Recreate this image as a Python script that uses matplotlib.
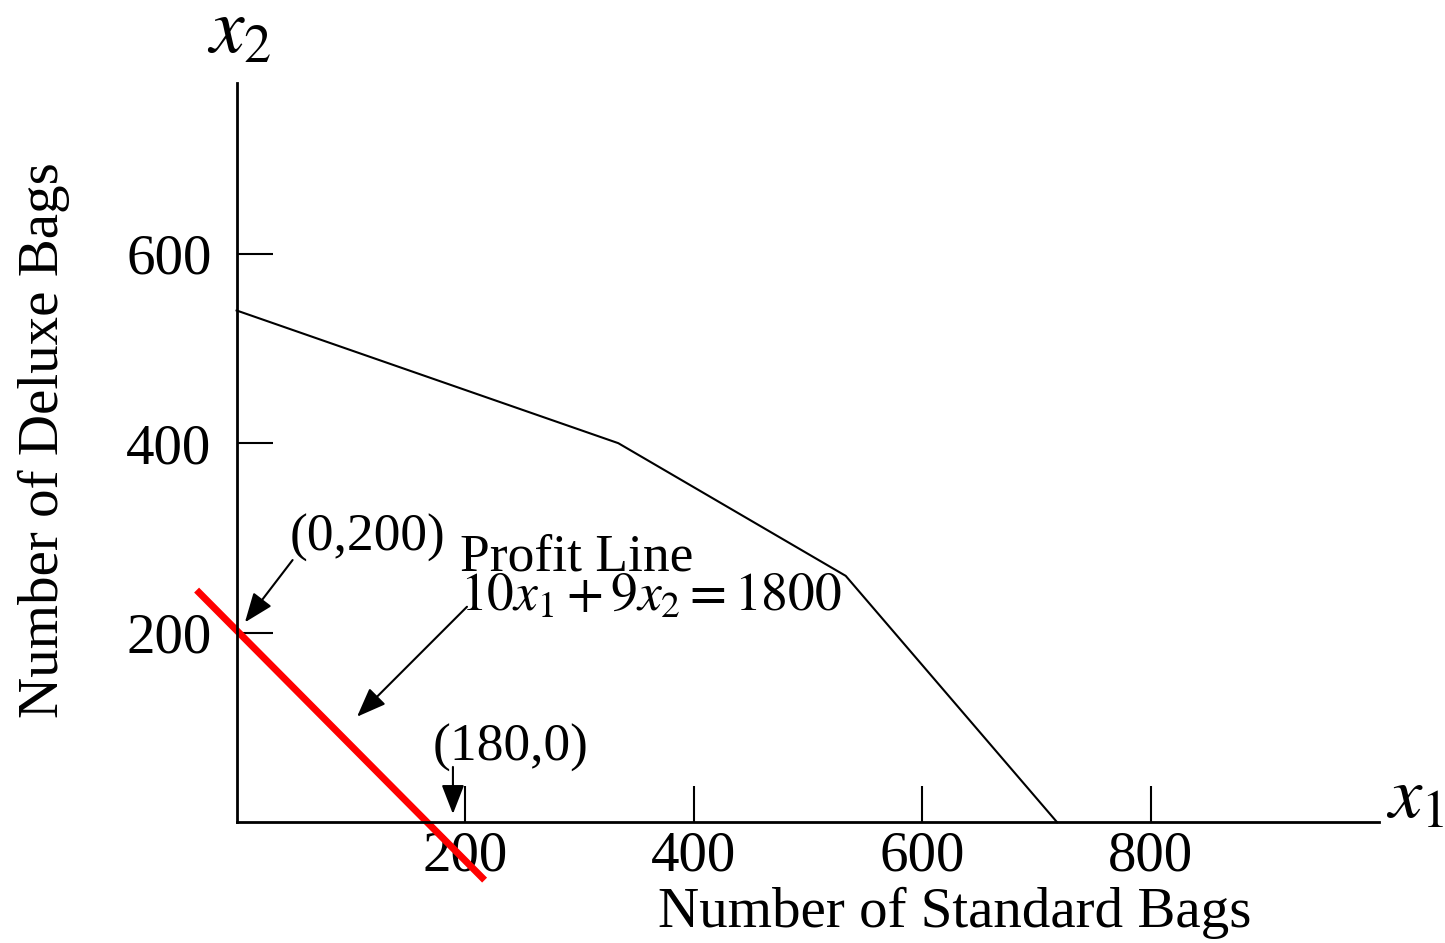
import matplotlib
matplotlib.use("Agg")
import matplotlib.pyplot as plt

plt.rcParams['font.family'] = ['Liberation Serif', 'DejaVu Serif']
plt.rcParams['mathtext.fontset'] = 'stix'

# Feasible region boundary vertices
boundary_x = [0, 334, 533, 718]
boundary_y = [540, 400, 260, 0]

# Profit line 10x1 + 9x2 = 1800 (drawn segment)
profit_x = [-35, 217]
profit_y = [245, -61]

x_ticks = [200, 400, 600, 800]
y_ticks = [200, 400, 600]

fig = plt.figure(figsize=(14.45, 9.43), dpi=100)
ax = fig.add_axes([236.6 / 1445, (943 - 822.3) / 943, 1142.8 / 1445, 739.3 / 943])
ax.set_xlim(0, 1000)
ax.set_ylim(0, 780)

for s in ['top', 'right']:
    ax.spines[s].set_visible(False)
for s in ['left', 'bottom']:
    ax.spines[s].set_linewidth(2)

ax.set_xticks(x_ticks)
ax.set_yticks(y_ticks)
ax.tick_params(axis='both', direction='in', length=26, width=1.5, labelsize=41)
ax.tick_params(axis='x', pad=6)
ax.tick_params(axis='y', pad=18)

ax.plot(boundary_x, boundary_y, color='black', lw=1.5, clip_on=False)
ax.plot(profit_x, profit_y, color='#ff0000', lw=5, clip_on=False, solid_capstyle='butt')

fs = 41
afs = 38.5
ax.text(1031, 23, r'$x_1$', fontsize=54, ha='center', va='center', clip_on=False)
ax.text(2, 832, r'$x_2$', fontsize=56, ha='center', va='center', clip_on=False)

fig.text(955 / 1445, 1 - 913 / 943, 'Number of Standard Bags', fontsize=fs, ha='center', va='center')
fig.text(44 / 1445, 1 - 440 / 943, 'Number of Deluxe Bags', fontsize=fs, ha='center', va='center', rotation=90)

ap = dict(arrowstyle='-|>,head_length=0.9,head_width=0.35', mutation_scale=20, lw=1.5, color='black',
          shrinkA=0, shrinkB=0)
ax.text(46.7, 300, '(0,200)', fontsize=afs, ha='left', va='center')
ax.annotate('', xy=(7.3, 211), xytext=(49, 276.7), arrowprops=ap)

ax.text(195.4, 258, 'Profit Line\n' + r'$10x_1 + 9x_2 = 1800$', fontsize=afs,
        ha='left', va='center', multialignment='left', linespacing=0.78)
ax.annotate('', xy=(105.4, 111.4), xytext=(201.6, 227.4), arrowprops=ap)

ax.text(171.8, 78.4, '(180,0)', fontsize=afs, ha='left', va='center')
ax.annotate('', xy=(189.3, 8.8), xytext=(189.3, 58.4), arrowprops=ap)

fig.savefig('out.png', dpi=100)
